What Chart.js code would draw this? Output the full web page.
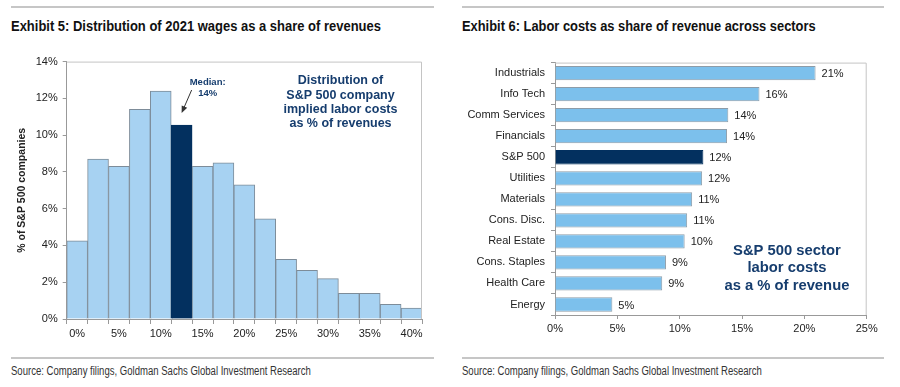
<!DOCTYPE html>
<html>
<head>
<meta charset="utf-8">
<script src="https://cdn.jsdelivr.net/npm/chart.js@4.4.0/dist/chart.umd.min.js"></script>
<style>
  body { margin: 0; background: #fff; width: 900px; height: 387px; position: relative; overflow: hidden; }
  .rule { position: absolute; height: 2px; background: #c6c6c6; }
  .title { position: absolute; top: 17px; font: bold 15.5px 'Liberation Sans', Arial, sans-serif; color: #111; white-space: nowrap; transform-origin: 0 0; }
  .src { position: absolute; top: 364px; font: 12px 'Liberation Sans', Arial, sans-serif; color: #333; white-space: nowrap; transform-origin: 0 0; }
  .box { position: absolute; top: 50px; width: 450px; height: 295px; }
</style>
</head>
<body>
<div class="rule" style="left:11px;width:423px;top:6px"></div>
<div class="rule" style="left:462px;width:422px;top:6px"></div>
<div class="title" style="left:11px" data-w="370">Exhibit 5: Distribution of 2021 wages as a share of revenues</div>
<div class="title" style="left:462px" data-w="354">Exhibit 6: Labor costs as share of revenue across sectors</div>
<div class="box" style="left:0"><canvas id="histChart"></canvas></div>
<div class="box" style="left:450px"><canvas id="sectorChart"></canvas></div>
<div class="rule" style="left:11px;width:423px;top:357px"></div>
<div class="rule" style="left:462px;width:422px;top:357px"></div>
<div class="src" style="left:11px" data-w="300">Source: Company filings, Goldman Sachs Global Investment Research</div>
<div class="src" style="left:462px" data-w="300">Source: Company filings, Goldman Sachs Global Investment Research</div>

<script>
/* data */
const binLabels = ['0%', '2.5%', '5%', '7.5%', '10%', '12.5%', '15%', '17.5%', '20%',
                   '22.5%', '25%', '27.5%', '30%', '32.5%', '35%', '37.5%', '40%'];
const binShares = [4.25, 8.7, 8.3, 11.4, 12.4, 10.55, 8.3, 8.5, 7.3,
                   5.45, 3.25, 2.65, 2.2, 1.4, 1.4, 0.8, 0.6];
const medianBin = 5;
const medianText = ['Median:', '14%'];
const histNote = ['Distribution of', 'S&P 500 company', 'implied labor costs', 'as % of revenues'];

const sectors = ['Industrials', 'Info Tech', 'Comm Services', 'Financials', 'S&P 500', 'Utilities',
                 'Materials', 'Cons. Disc.', 'Real Estate', 'Cons. Staples', 'Health Care', 'Energy'];
const laborShare = [20.9, 16.4, 13.9, 13.8, 11.9, 11.8, 11.0, 10.6, 10.4, 8.9, 8.6, 4.6];
const highlightSector = 'S&P 500';
const sectorNote = ['S&P 500 sector', 'labor costs', 'as a % of revenue'];

const LIGHT = '#a7d2f2';
const MID = '#7cc0ec';
const NAVY = '#03305f';
const NOTE = '#163d6e';

// squeeze the headings to the narrow look of the original
document.querySelectorAll('[data-w]').forEach((el) => {
    el.style.transform = 'scaleX(' + (el.dataset.w / el.offsetWidth) + ')';
});

Chart.defaults.font.family = "'Liberation Sans', Arial, sans-serif";
Chart.defaults.font.size = 11;
Chart.defaults.color = '#222';
Chart.defaults.animation = false;

/* light grey box round the plot area */
const frame = {
    id: 'frame',
    afterDraw(chart) {
        const {ctx, chartArea: a} = chart;
        ctx.save();
        ctx.strokeStyle = '#c4c4c4';
        ctx.lineWidth = 1;
        ctx.beginPath();
        ctx.moveTo(a.left, a.top + 0.5);
        ctx.lineTo(a.right - 0.5, a.top + 0.5);
        ctx.lineTo(a.right - 0.5, a.bottom);
        ctx.stroke();
        ctx.restore();
    }
};

function drawLines(ctx, lines, x, y, step) {
    lines.forEach((t, i) => ctx.fillText(t, x, y + i * step));
}

/*--- Exhibit 5: histogram ---*/
const histNotes = {
    id: 'histNotes',
    afterDatasetsDraw(chart) {
        const {ctx, scales: {x, y}} = chart;
        const cx = x.getPixelForValue(medianBin);
        const top = y.getPixelForValue(binShares[medianBin]);
        ctx.save();
        ctx.fillStyle = NOTE;
        ctx.strokeStyle = '#333';
        ctx.textAlign = 'center';
        ctx.textBaseline = 'middle';

        // median label + arrow
        ctx.font = "bold 9.5px 'Liberation Sans', Arial, sans-serif";
        drawLines(ctx, medianText, cx + 26, top - 43, 11.5);
        const tipX = cx, tipY = top - 12;
        const sx = cx + 10, sy = top - 35;
        const ang = Math.atan2(tipY - sy, tipX - sx);
        ctx.lineWidth = 1;
        ctx.beginPath();
        ctx.moveTo(sx, sy);
        ctx.lineTo(tipX - 4 * Math.cos(ang), tipY - 4 * Math.sin(ang));
        ctx.stroke();
        ctx.fillStyle = '#333';
        ctx.beginPath();
        ctx.moveTo(tipX, tipY);
        ctx.lineTo(tipX - 7 * Math.cos(ang) + 3 * Math.sin(ang), tipY - 7 * Math.sin(ang) - 3 * Math.cos(ang));
        ctx.lineTo(tipX - 7 * Math.cos(ang) - 3 * Math.sin(ang), tipY - 7 * Math.sin(ang) + 3 * Math.cos(ang));
        ctx.closePath();
        ctx.fill();

        // big note
        ctx.fillStyle = NOTE;
        ctx.font = "bold 12.5px 'Liberation Sans', Arial, sans-serif";
        drawLines(ctx, histNote, x.getPixelForValue(12.6), y.getPixelForValue(12.95), 14.2);
        ctx.restore();
    }
};

new Chart(document.getElementById('histChart'), {
    type: 'bar',
    data: {
        labels: binLabels,
        datasets: [{
            data: binShares,
            backgroundColor: binShares.map((v, i) => i === medianBin ? NAVY : LIGHT),
            borderColor: binShares.map((v, i) => i === medianBin ? NAVY : '#7d8c99'),
            borderWidth: 1,
            categoryPercentage: 1,
            barPercentage: 1
        }]
    },
    options: {
        responsive: true,
        maintainAspectRatio: false,
        layout: { padding: { top: 11, right: 28, left: 0, bottom: 0 } },
        plugins: { legend: { display: false }, tooltip: { enabled: false } },
        scales: {
            x: {
                grid: { drawOnChartArea: false, tickLength: 5, color: '#999' },
                border: { color: '#999' },
                ticks: {
                    autoSkip: false,
                    maxRotation: 0,
                    padding: 3,
                    callback: (v, i) => i % 2 === 0 ? binLabels[i] : ''
                },
                afterFit: (s) => { s.height = 26; }
            },
            y: {
                min: 0,
                max: 14,
                grid: { drawOnChartArea: false, tickLength: 4, color: '#999' },
                border: { color: '#999' },
                ticks: { stepSize: 2, padding: 5, callback: (v) => v + '%' },
                title: {
                    display: true,
                    text: '% of S&P 500 companies',
                    font: { weight: 'bold', size: 10.5 },
                    padding: { top: 16, bottom: 0 }
                },
                afterFit: (s) => { s.width = 66.7; }
            }
        }
    },
    plugins: [frame, histNotes]
});

/*--- Exhibit 6: sector bars ---*/
const sectorNotes = {
    id: 'sectorNotes',
    afterDatasetsDraw(chart) {
        const {ctx, scales: {x, y}} = chart;
        ctx.save();
        ctx.textBaseline = 'middle';

        // value labels
        ctx.fillStyle = '#222';
        ctx.textAlign = 'left';
        ctx.font = "11px 'Liberation Sans', Arial, sans-serif";
        chart.getDatasetMeta(0).data.forEach((bar, i) => {
            ctx.fillText(Math.round(laborShare[i]) + '%', bar.x + 6, bar.y + 1);
        });

        ctx.fillStyle = NOTE;
        ctx.textAlign = 'center';
        ctx.font = "bold 14.8px 'Liberation Sans', Arial, sans-serif";
        drawLines(ctx, sectorNote, x.getPixelForValue(18.6), y.getPixelForValue(8.43), 17.5);
        ctx.restore();
    }
};

new Chart(document.getElementById('sectorChart'), {
    type: 'bar',
    data: {
        labels: sectors,
        datasets: [{
            data: laborShare,
            backgroundColor: sectors.map((s) => s === highlightSector ? NAVY : MID),
            borderColor: sectors.map((s) => s === highlightSector ? NAVY : '#8d9ca8'),
            borderWidth: 1,
            categoryPercentage: 1,
            barPercentage: 0.68
        }]
    },
    options: {
        indexAxis: 'y',
        responsive: true,
        maintainAspectRatio: false,
        layout: { padding: { top: 11, right: 33.3, left: 0, bottom: 0 } },
        plugins: { legend: { display: false }, tooltip: { enabled: false } },
        scales: {
            x: {
                min: 0,
                max: 25,
                grid: { drawOnChartArea: false, tickLength: 4, color: '#999' },
                border: { color: '#999' },
                ticks: { stepSize: 5, padding: 3, maxRotation: 0, callback: (v) => v + '%' },
                afterFit: (s) => { s.height = 30; }
            },
            y: {
                grid: { drawOnChartArea: false, tickLength: 4, color: '#999' },
                border: { color: '#999' },
                ticks: { autoSkip: false, padding: 6 },
                afterFit: (s) => { s.width = 105; }
            }
        }
    },
    plugins: [frame, sectorNotes]
});
</script>
</body>
</html>
